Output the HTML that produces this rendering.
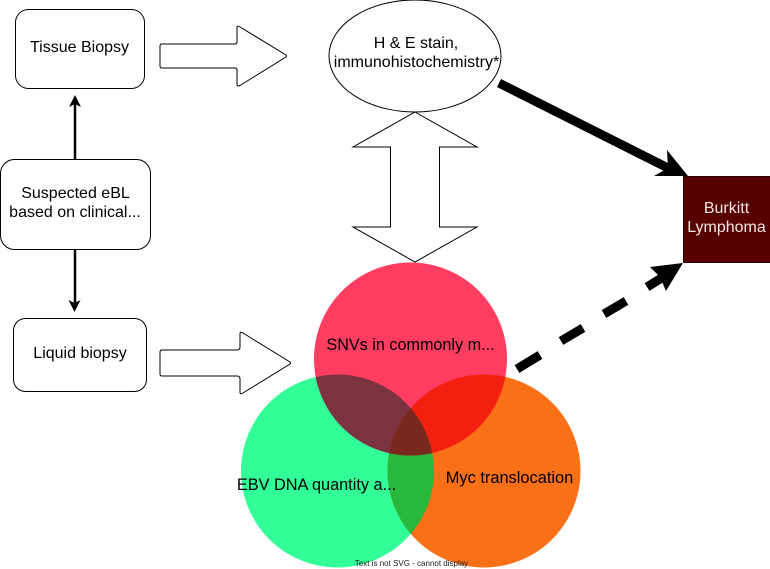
<!DOCTYPE html>
<html>
<head>
<meta charset="utf-8">
<style>
html,body{margin:0;padding:0;background:#fff;}
svg{display:block;}
text{font-family:"Liberation Sans",Arial,sans-serif;}
</style>
</head>
<body>
<svg width="770" height="569" viewBox="0 0 770 569" xmlns="http://www.w3.org/2000/svg">
<defs>
<clipPath id="cr"><circle cx="410.5" cy="359" r="96.5"/></clipPath>
<clipPath id="cg"><circle cx="337.5" cy="471" r="96.5"/></clipPath>
<clipPath id="co"><circle cx="484" cy="471" r="96.5"/></clipPath>
</defs>
<rect width="770" height="569" fill="#fff"/>

<!-- boxes -->
<rect x="15.5" y="9.5" width="129" height="79" rx="13" fill="#fff" stroke="#000" stroke-width="1"/>
<rect x="0.5" y="159.5" width="150" height="90" rx="14" fill="#fff" stroke="#000" stroke-width="1"/>
<rect x="13.5" y="318.5" width="133" height="73" rx="12" fill="#fff" stroke="#000" stroke-width="1"/>

<!-- thin arrows -->
<path d="M75 159V102" stroke="#000" stroke-width="2.5" fill="none"/>
<path d="M75 95L81 107L75 104L69 107Z" fill="#000"/>
<path d="M75 249V306" stroke="#000" stroke-width="2.5" fill="none"/>
<path d="M74.500 312L68.500 300L74.500 303L80.500 300Z" fill="#000"/>

<!-- block arrows -->
<path d="M162 44H235Q237 44 237 42V28Q237 25 240 27L286 55Q287 56 286 57L240 85.500Q237 87 237 84V70Q237 68 235 68H162Q160 68 160 66V46Q160 44 162 44Z" fill="#fff" stroke="#000" stroke-width="1"/>
<path d="M162 350H237Q240 350 240 347V334Q240 331 243 333L290 362Q291 363 290 364L243 393Q240 395 240 392V379Q240 376 237 376H162Q160 376 160 374V352Q160 350 162 350Z" fill="#fff" stroke="#000" stroke-width="1"/>

<!-- ellipse -->
<ellipse cx="415" cy="56" rx="86" ry="56" fill="#fff" stroke="#000" stroke-width="1"/>

<!-- double arrow -->
<path d="M415 112L477 147H439.500V227H477L415 262L353 227H390.500V147H353Z" fill="#fff" stroke="#000" stroke-width="1"/>

<!-- circles -->
<circle cx="337.5" cy="471" r="96.5" fill="#33ff99"/>
<circle cx="484" cy="471" r="96.5" fill="#f97016"/>
<circle cx="410.5" cy="359" r="96.5" fill="#ff3d60"/>
<g clip-path="url(#cg)"><circle cx="484" cy="471" r="96.5" fill="#28b83a"/></g>
<g clip-path="url(#cr)"><circle cx="337.5" cy="471" r="96.5" fill="#7c3340"/></g>
<g clip-path="url(#cr)"><circle cx="484" cy="471" r="96.5" fill="#f4200f"/></g>
<g clip-path="url(#cr)"><g clip-path="url(#cg)"><circle cx="484" cy="471" r="96.5" fill="#78281c"/></g></g>

<!-- burkitt -->
<rect x="683.500" y="176.500" width="87" height="86" fill="#570000" stroke="#2a0000" stroke-width="1"/>

<!-- thick arrow -->
<path d="M499 83L668 168" stroke="#000" stroke-width="9" fill="none"/>
<path d="M667 150L688 176H654L668 168Z" fill="#000"/>

<!-- dashed arrow -->
<path d="M517 369L540 355M561 341L583 328M604 314L626 301M647 287L668 274" stroke="#000" stroke-width="9" fill="none"/>
<path d="M683 263L650 267L660 277L666 291Z" fill="#000"/>

<!-- labels -->
<g font-size="16" text-anchor="middle" fill="#000">
<text x="79.500" y="52">Tissue Biopsy</text>
<text x="75.500" y="198">Suspected eBL</text>
<text x="75" y="217">based on clinical...</text>
<text x="80" y="358">Liquid biopsy</text>
<text x="416" y="48">H &amp; E stain,</text>
<text x="416.500" y="67">immunohistochemistry*</text>
<text x="726.500" y="213" fill="#f4e6e6">Burkitt</text>
<text x="726.500" y="232" fill="#f4e6e6">Lymphoma</text>
<text x="410.500" y="350" font-size="16.200">SNVs in commonly m...</text>
<text x="316.500" y="490" font-size="16.300">EBV DNA quantity a...</text>
<text x="509.500" y="483" font-size="16.400">Myc translocation</text>
<text x="411.500" y="566" font-size="8" fill="#222">Text is not SVG - cannot display</text>
</g>
</svg>
</body>
</html>
